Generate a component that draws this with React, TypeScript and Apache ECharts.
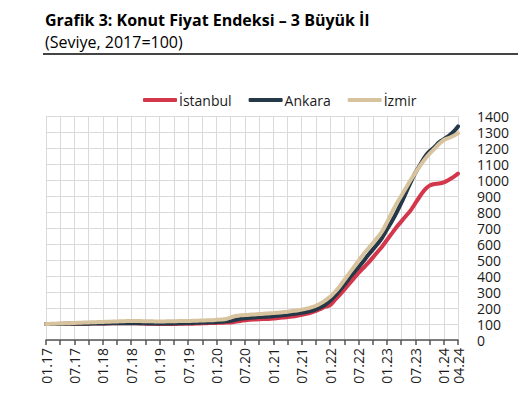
import React, { useEffect, useRef } from "react";
import * as echarts from "echarts";

const months: string[] = [];
for (let y = 17; y <= 24; y++) {
  for (let m = 1; m <= 12; m++) {
    if (y === 24 && m > 4) break;
    months.push(String(m).padStart(2, "0") + "." + y);
  }
}

const istanbul = [
  100, 100, 100, 101, 101, 101, 102, 102, 102, 102, 103, 103,
  103, 103, 104, 104, 104, 104, 104, 104, 103, 102, 101, 101,
  100, 100, 100, 100, 101, 101, 102, 102, 103, 104, 105, 106,
  107, 108, 109, 110, 114, 119, 123, 126, 128, 130, 131, 132,
  134, 137, 140, 143, 147, 152, 158, 164, 172, 182, 195, 208,
  218, 250, 282, 315, 350, 385, 420, 450, 480, 515, 550, 585,
  625, 665, 705, 740, 775, 810, 855, 900, 940, 965, 975, 978,
  985, 1000, 1018, 1040,
];

const ankara = [
  100, 100, 100, 100, 101, 101, 101, 102, 102, 102, 103, 103,
  103, 104, 104, 104, 105, 105, 105, 105, 104, 104, 103, 103,
  103, 103, 103, 104, 104, 105, 106, 107, 108, 109, 110, 111,
  112, 114, 117, 120, 126, 132, 136, 139, 141, 143, 145, 147,
  149, 152, 155, 158, 162, 166, 170, 175, 182, 192, 205, 222,
  245, 275, 310, 345, 385, 420, 455, 490, 530, 565, 600, 640,
  690, 740, 795, 855, 920, 985, 1045, 1095, 1145, 1180, 1205, 1235,
  1255, 1275, 1300, 1335,
];

const izmir = [
  100, 101, 102, 103, 104, 105, 107, 108, 109, 110, 111, 112,
  113, 114, 115, 116, 117, 118, 119, 119, 118, 117, 117, 116,
  116, 116, 117, 117, 118, 118, 119, 120, 121, 122, 123, 124,
  126, 128, 131, 140, 150, 154, 156, 158, 160, 162, 164, 166,
  168, 171, 174, 177, 181, 185, 190, 196, 204, 214, 229, 248,
  270, 300, 335, 375, 415, 455, 495, 535, 570, 605, 640, 680,
  735, 795, 850, 900, 950, 1000, 1045, 1090, 1130, 1165, 1195, 1225,
  1250, 1262, 1275, 1292,
];

const seriesNames = ["İstanbul", "Ankara", "İzmir"];
const seriesData = [istanbul, ankara, izmir];
const seriesColors = ["#d4364b", "#243848", "#d8c39f"];

const FONT = '"Open Sans", "Noto Sans", sans-serif';

export default function App() {
  const ref = useRef<HTMLDivElement>(null);
  useEffect(() => {
    if (!ref.current) return;
    const chart = echarts.init(ref.current, null, { renderer: "svg" });
    chart.setOption({
      animation: false,
      textStyle: { fontFamily: FONT },
      graphic: [
        {
          type: "text",
          left: 45,
          top: 12,
          style: {
            text: "Grafik 3: Konut Fiyat Endeksi – 3 Büyük İl",
            font: `bold 16px ${FONT}`,
            fill: "#000",
          },
        },
        {
          type: "text",
          left: 45,
          top: 34,
          style: {
            text: "(Seviye, 2017=100)",
            font: `16px ${FONT}`,
            fill: "#000",
          },
        },
        {
          type: "line",
          shape: { x1: 43, y1: 54, x2: 518, y2: 54 },
          style: { stroke: "#444", lineWidth: 2 },
        },
      ],
      legend: {
        left: 138,
        top: 88,
        itemWidth: 34,
        itemHeight: 4,
        itemGap: 17,
        icon: "roundRect",
        textStyle: { fontSize: 14, color: "#1a1a1a", fontFamily: FONT, padding: [0, 0, 0, -3] },
        data: seriesNames,
      },
      grid: { left: 46, right: 60, top: 116, bottom: 58, containLabel: false },
      xAxis: {
        type: "category",
        data: months,
        boundaryGap: false,
        axisLine: { show: true, lineStyle: { color: "#555", width: 1.5 } },
        axisTick: {
          show: true,
          length: 5,
          interval: (i: number) => i % 3 === 0,
          lineStyle: { color: "#555", width: 1.5 },
        },
        axisLabel: {
          rotate: 90,
          interval: (i: number) => i % 6 === 0 || i === months.length - 1,
          fontSize: 14,
          lineHeight: 13,
          color: "#1a1a1a",
          margin: 8,
          fontFamily: FONT,
        },
        splitLine: {
          show: true,
          interval: (i: number) => i % 3 === 0,
          lineStyle: { color: "#dadada", width: 1 },
        },
      },
      yAxis: {
        type: "value",
        position: "right",
        min: 0,
        max: 1400,
        interval: 100,
        axisLine: { show: false },
        axisTick: { show: false },
        axisLabel: {
          fontSize: 14,
          lineHeight: 13,
          color: "#1a1a1a",
          margin: 19,
          fontFamily: FONT,
          formatter: (v: number) => String(v),
        },
        splitLine: { show: true, lineStyle: { color: "#dadada", width: 1 } },
      },
      series: seriesNames.map((name, k) => ({
        name,
        type: "line",
        data: seriesData[k],
        showSymbol: false,
        symbol: "none",
        smooth: 0.3,
        color: seriesColors[k],
        lineStyle: { width: 4, color: seriesColors[k], cap: "round", join: "round" },
      })),
    });
    return () => chart.dispose();
  }, []);
  return (
    <div
      ref={ref}
      style={{ position: "fixed", left: 0, top: 0, width: 518, height: 398, background: "#fff" }}
    />
  );
}
